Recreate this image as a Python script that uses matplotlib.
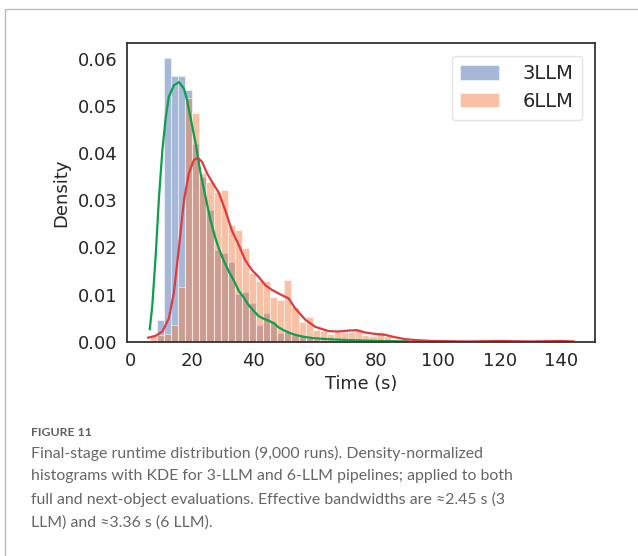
import numpy as np
import matplotlib
matplotlib.use("Agg")
import matplotlib.pyplot as plt
from matplotlib.patches import Rectangle

# histogram bins shared by both pipelines (seconds)
bin_start = 6.4
bin_width = 2.3

# density per bin
dens_3llm = [0.0, 0.0047, 0.0602, 0.0562, 0.0564, 0.0533, 0.0420, 0.0350, 0.0279, 0.0195,
             0.0188, 0.0170, 0.0101, 0.0106, 0.0082, 0.0036, 0.0061, 0.0043, 0.0019, 0.0020,
             0.0015, 0.0012, 0.0008, 0.0006, 0.0005, 0.0004, 0.0003, 0.0002, 0.0002, 0.0001,
             0.0001, 0.0001, 0.0001, 0.0001, 0.0001, 0.0001]
dens_6llm = [0.0013, 0.0015, 0.0016, 0.0036, 0.0117, 0.0517, 0.0485, 0.0357, 0.0339, 0.0318,
             0.0322, 0.0248, 0.0236, 0.0198, 0.0146, 0.0130, 0.0128, 0.0096, 0.0089, 0.0131,
             0.0075, 0.0043, 0.0052, 0.0026, 0.0023, 0.0016, 0.0020, 0.0022, 0.0022, 0.0027,
             0.0015, 0.0013, 0.0022, 0.0013, 0.0006, 0.0004, 0.0002, 0.0, 0.0002, 0.0,
             0.0002, 0.0, 0.0, 0.0001, 0.0, 0.0, 0.0, 0.0, 0.0, 0.0,
             0.0002, 0.0, 0.0, 0.0, 0.0, 0.0, 0.0, 0.0002]

# KDE curves
kde3_x = [6.4, 7.2, 8.3, 9.4, 10.5, 11.6, 12.6, 14.2, 15.9, 17.5, 18.5, 19.6, 21.3, 22.9,
          24.5, 26.1, 27.7, 28.8, 30.4, 32.0, 33.7, 35.3, 36.9, 38.5, 40.1, 41.7, 43.4,
          45.0, 46.6, 48.2, 49.8, 51.5, 53.1, 56.3, 59.5, 63.9, 70.6, 81.4, 90.3]
kde3_y = [0.0027, 0.0075, 0.0180, 0.0307, 0.0406, 0.0476, 0.0519, 0.0543, 0.0550, 0.0536,
          0.0512, 0.0476, 0.0420, 0.0357, 0.0307, 0.0258, 0.0220, 0.0198, 0.0172, 0.0150,
          0.0130, 0.0108, 0.0094, 0.0078, 0.0066, 0.0055, 0.0049, 0.0045, 0.0040, 0.0031,
          0.0025, 0.0020, 0.0016, 0.0011, 0.0008, 0.0006, 0.0004, 0.0002, 0.0001]
kde6_x = [5.9, 8.3, 10.5, 12.6, 14.2, 15.9, 17.5, 19.1, 20.7, 22.0, 23.4, 25.0, 26.6,
          28.8, 31.0, 33.1, 35.3, 37.4, 39.6, 41.7, 43.9, 46.1, 49.3, 51.5, 53.6, 56.9,
          60.1, 64.4, 67.6, 70.9, 73.6, 76.3, 79.5, 82.8, 86.0, 89.2, 92.5, 97.9, 110.0,
          120.0, 130.0, 140.0, 144.0]
kde6_y = [0.0009, 0.0013, 0.0022, 0.0050, 0.0103, 0.0201, 0.0300, 0.0357, 0.0385, 0.0390,
          0.0381, 0.0357, 0.0339, 0.0316, 0.0277, 0.0235, 0.0205, 0.0173, 0.0152, 0.0138,
          0.0120, 0.0110, 0.0099, 0.0092, 0.0071, 0.0047, 0.0032, 0.0023, 0.0022, 0.0024,
          0.0025, 0.0020, 0.0017, 0.0015, 0.0010, 0.0006, 0.0004, 0.0002, 0.0001,
          0.0002, 0.0001, 0.0002, 0.0001]

x_ticks = [0, 20, 40, 60, 80, 100, 120, 140]
y_ticks = [0.00, 0.01, 0.02, 0.03, 0.04, 0.05, 0.06]

caption_head = "FIGURE 11"
caption_lines = [
    "Final-stage runtime distribution (9,000 runs). Density-normalized",
    "histograms with KDE for 3-LLM and 6-LLM pipelines; applied to both",
    "full and next-object evaluations. Effective bandwidths are \u22482.45 s (3",
    "LLM) and \u22483.36 s (6 LLM).",
]

fig = plt.figure(figsize=(6.38, 5.56), dpi=100)
fig.patch.set_facecolor("white")

# outer frame of the figure panel
fig.add_artist(Rectangle((4.5 / 638, -0.2), 1.2, 1.2 - 8.5 / 556, transform=fig.transFigure,
                         fill=False, edgecolor="#b4b4b4", linewidth=0.9))

ax = fig.add_axes([0.199, 0.385, 0.7335, 0.5378])

edges3 = bin_start + bin_width * np.arange(len(dens_3llm))
edges6 = bin_start + bin_width * np.arange(len(dens_6llm))
ax.bar(edges3, dens_3llm, width=bin_width, align="edge", color="#4c72b0", alpha=0.5,
       edgecolor="white", linewidth=0.8, label="3LLM")
ax.bar(edges6, dens_6llm, width=bin_width, align="edge", color="#f2824a", alpha=0.5,
       edgecolor="white", linewidth=0.8, label="6LLM")
ax.plot(kde3_x, kde3_y, color="#0aa04c", linewidth=1.6)
ax.plot(kde6_x, kde6_y, color="#e0393e", linewidth=1.6)

ax.set_xlim(-1.0, 150.9)
ax.set_ylim(0, 0.0633)
ax.set_xticks(x_ticks)
ax.set_yticks(y_ticks)
ax.set_yticklabels([f"{v:.2f}" for v in y_ticks])
ax.tick_params(length=0, labelsize=13, colors="#262626", pad=7)
for s in ax.spines.values():
    s.set_color("#333333")
    s.set_linewidth(1.3)
ax.set_xlabel("Time (s)", fontsize=12.8, color="#262626", labelpad=4)
ax.set_ylabel("Density", fontsize=13, color="#262626", labelpad=5)

leg = ax.legend(loc="upper right", fontsize=14, handlelength=2.0, handleheight=0.75,
                frameon=True, borderpad=0.45, labelspacing=0.45, handletextpad=1.2,
                borderaxespad=0.65)
leg.get_frame().set_edgecolor("#dddddd")
for t in leg.get_texts():
    t.set_color("#262626")

fig.text(31 / 638, 1 - 432 / 556, caption_head, fontsize=8.8, color="#5f5f5f",
         fontweight="bold", family=["Lato", "DejaVu Sans"], va="center")
fig.text(31 / 638, 1 - 446 / 556, "\n".join(caption_lines), fontsize=11.45, color="#666666",
         family=["Lato", "DejaVu Sans"], va="top", linespacing=1.72)

fig.savefig("out.png", dpi=100)
